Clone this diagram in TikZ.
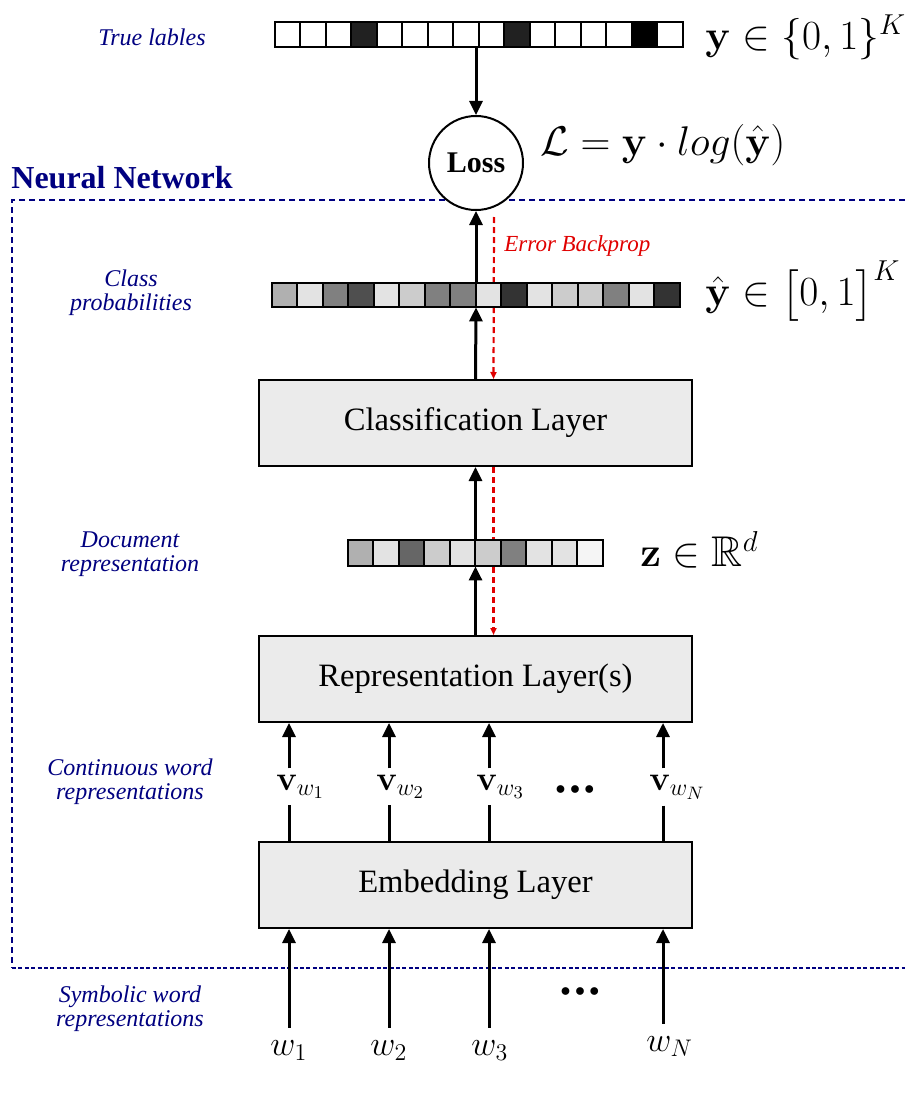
\documentclass[tikz,border=0pt]{standalone}
\usepackage{amsmath,amssymb}
\usepackage[no-math]{fontspec}
\setmainfont{Liberation Serif}
\usetikzlibrary{arrows.meta,calc}
\pgfdeclarelayer{bg}
\pgfsetlayers{bg,main}
\definecolor{navy}{HTML}{000080}
\definecolor{bpred}{HTML}{E00000}
\definecolor{boxgray}{HTML}{EBEBEB}
\newcommand{\mydots}{$\mathord{\bullet}\mkern4mu\mathord{\bullet}\mkern4mu\mathord{\bullet}$}
\tikzset{
  arr/.style={line width=1.5pt,-{Triangle[length=7pt,width=6.5pt]}},
  bp/.style={bpred,line width=1.1pt,dash pattern=on 3pt off 2pt,-{Triangle[length=3.5pt,width=3pt]}},
  layer/.style={draw,line width=1pt,fill=boxgray,minimum width=216.5pt,minimum height=43pt,inner sep=0pt,font=\fontsize{16.3}{19}\selectfont},
  side/.style={navy,font=\fontsize{12}{12}\selectfont\itshape,align=center},
  eq/.style={font=\fontsize{21.5}{25}\selectfont,anchor=west,inner sep=0pt},
  barnode/.style={inner sep=0pt,minimum height=12.5pt},
  cell/.style={draw=black,line width=1pt},
  vlab/.style={anchor=base west,inner xsep=2pt,inner ysep=3pt,font=\fontsize{18}{21}\selectfont},
  wlab/.style={anchor=base west,inner xsep=2pt,inner ysep=6pt,font=\fontsize{18}{21}\selectfont},
  dotlab/.style={font=\fontsize{10}{12}\selectfont,inner sep=0pt},
}
\begin{document}
\begin{tikzpicture}[x=0.5pt,y=-0.5pt]
\useasboundingbox (0,0) rectangle (905,1102);

% Neural network frame
\draw[navy,line width=1.2pt,dash pattern=on 3pt off 2pt] (905,200) -- (12,200) -- (12,968);
\draw[navy,line width=1.2pt,dash pattern=on 2pt off 1.2pt] (12,968) -- (905,968);
\node[navy,font=\fontsize{16}{19}\selectfont\bfseries,anchor=west,inner sep=0pt] (nn) at (11,178) {Neural Network};

% bars
\node[barnode,minimum width=204pt] (ybar) at (479,34.5) {};
\foreach \c [count=\i from 0] in {white,white,white,black!87,white,white,white,white,white,black!87,white,white,white,white,black,white}
  \filldraw[cell,fill=\c] ($(ybar.north west)+(\i*25.5,0)$) rectangle ++(25.5,25);

\node[barnode,minimum width=204pt,minimum height=12pt] (yhat) at (476,295) {};
\foreach \c [count=\i from 0] in {black!31,black!11,black!50,black!69,black!11,black!20,black!50,black!50,black!11,black!80,black!11,black!20,black!20,black!50,black!11,black!80}
  \filldraw[cell,fill=\c] ($(yhat.north west)+(\i*25.5,0)$) rectangle ++(25.5,24);

\node[barnode,minimum width=127.5pt,minimum height=13pt] (zbar) at (475.5,553) {};
\foreach \c [count=\i from 0] in {black!31,black!11,black!60,black!20,black!11,black!20,black!50,black!11,black!11,black!4}
  \filldraw[cell,fill=\c] ($(zbar.north west)+(\i*25.5,0)$) rectangle ++(25.5,26);

% loss
\node[circle,draw,line width=1pt,fill=white,minimum size=47pt,inner sep=0pt,font=\fontsize{15}{18}\selectfont\bfseries] (loss) at (476,163) {Loss};

% layers
\node[layer] (cls) at (475.5,423) {Classification Layer};
\node[layer] (rep) at (475.5,679) {Representation Layer(s)};
\node[layer] (emb) at (475.5,885) {Embedding Layer};

% equations
\node[eq,font=\fontsize{20.5}{24}\selectfont] (eqy) at (705,37) {$\mathbf{y}\in\{0,1\}^K$};
\node[eq,font=\fontsize{22.5}{26}\selectfont] (eqL) at (540,145) {$\mathcal{L}=\mathbf{y}\cdot log(\hat{\mathbf{y}})$};
\node[eq] (eqyh) at (705,291) {$\hat{\mathbf{y}}\in\big[0,1\big]^K$};
\node[eq] (eqz) at (640,550) {$\mathbf{z}\in\mathbb{R}^d$};

% side labels
\node[side] (tl) at (152,37) {True lables};
\node[side] (cp) at (131,293) {Class\\probabilities};
\node[side] (dr) at (130,554) {Document\\representation};
\node[side] (cw) at (130,782) {Continuous word\\representations};
\node[side] (sw) at (130,1009) {Symbolic word\\representations};

% error backprop
\node[bpred,font=\fontsize{11.5}{14}\selectfont\itshape,anchor=west,inner sep=0pt] (ebp) at (504,246) {Error Backprop};

% columns
\coordinate (c1) at (289,0);
\coordinate (c2) at (389,0);
\coordinate (c3) at (489,0);
\coordinate (c4) at (663,0);

% v labels
\node[vlab] (v1) at (272,790) {$\mathbf{v}_{w_1}$};
\node[vlab] (v2) at (372,790) {$\mathbf{v}_{w_2}$};
\node[vlab] (v3) at (472,790) {$\mathbf{v}_{w_3}$};
\node[vlab] (vN) at (645,790) {$\mathbf{v}_{w_N}$};
\node[dotlab] (vdts) at (575,790) {\mydots};

% w labels
\node[wlab] (w1) at (266,1055) {$w_1$};
\node[wlab] (w2) at (366,1055) {$w_2$};
\node[wlab] (w3) at (467,1055) {$w_3$};
\node[wlab] (wN) at (642,1051) {$w_N$};
\node[dotlab] (wdts) at (580,992) {\mydots};

% connectors
\draw[arr] (loss.north |- ybar.south) -- (loss.north);
\draw[arr] (loss.south |- yhat.north) -- (loss.south);
\draw[arr] (cls.north) -- (yhat.south);
\draw[arr] (zbar.north) -- (cls.south);
\draw[arr] (rep.north) -- (zbar.south);
\begin{pgfonlayer}{bg}
\draw[bp] ([xshift=9pt,yshift=-3pt]loss.south) -- ([xshift=9pt]cls.north);
\draw[bp] ([xshift=9pt]cls.south) -- ([xshift=9pt]rep.north);
\end{pgfonlayer}

\foreach \v/\c in {v1/c1,v2/c2,v3/c3,vN/c4}{
  \draw[arr] (\v.north -| \c) -- (\c |- rep.south);
  \draw[line width=1.5pt] (\v.south -| \c) -- (\c |- emb.north);
}
\foreach \w/\c in {w1/c1,w2/c2,w3/c3,wN/c4}
  \draw[arr] (\w.north -| \c) -- (\c |- emb.south);
\end{tikzpicture}
\end{document}
